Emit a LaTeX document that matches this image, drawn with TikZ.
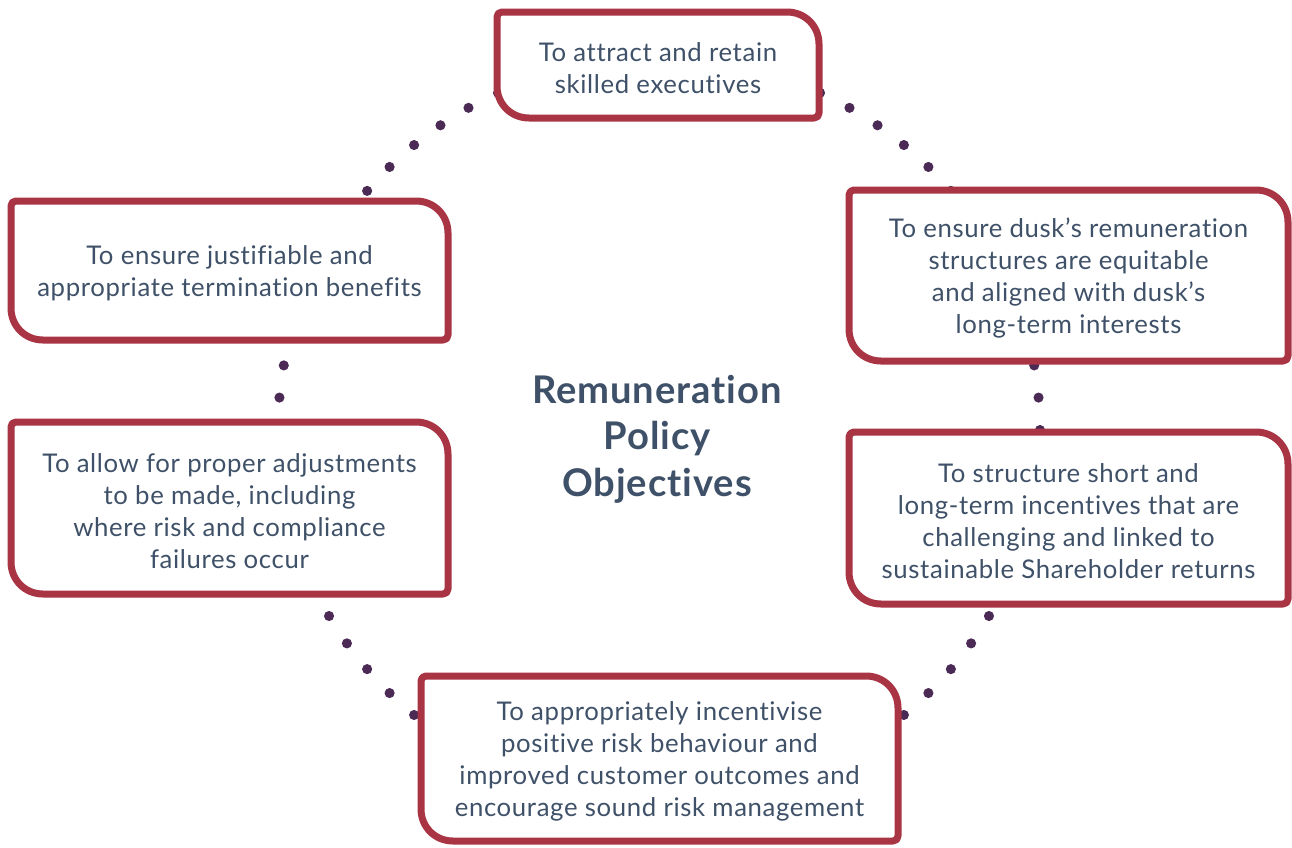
\documentclass[tikz,border=0pt]{standalone}
\usepackage{fontspec}
\setmainfont[LetterSpace=2.5,Ligatures={NoCommon,NoContextual}]{Lato}
\definecolor{boxred}{HTML}{A83444}
\definecolor{dotpurple}{HTML}{4B2A56}
\definecolor{txtblue}{HTML}{3F5168}
\tikzset{
  boxline/.style={draw=boxred, line width=5.25pt, fill=white, line join=round},
  objtext/.style={text=txtblue, align=center, inner sep=0pt, font=\fontsize{19.3pt}{24pt}\selectfont},
  titletext/.style={text=txtblue, align=center, inner sep=0pt, font=\bfseries\fontsize{28.6pt}{35pt}\selectfont},
  dotstyle/.style={fill=dotpurple}
}
\newcommand\objbox[6]{%
  \draw[boxline] ({#2+5},#3) -- ({#4-32},#3)
    .. controls ({#4-14},#3) and (#4,{#3+14}) .. (#4,{#3+32})
    -- (#4,{#5-5})
    .. controls (#4,{#5-2}) and ({#4-2},#5) .. ({#4-5},#5)
    -- ({#2+32},#5)
    .. controls ({#2+14},#5) and (#2,{#5-14}) .. (#2,{#5-32})
    -- (#2,{#3+5})
    .. controls (#2,{#3+2}) and ({#2+2},#3) .. ({#2+5},#3) -- cycle;
  \node[objtext] (#1) at ({(#2+#4)/2},{(#3+#5)/2+3}) {#6};
}
\begin{document}
\begin{tikzpicture}[x=0.75pt,y=-0.75pt]
\useasboundingbox (0,0) rectangle (1292,847);
\clip (0,0) rectangle (1292,847);
% dotted ellipse
\foreach \k in {0,...,71}{
  \fill[dotstyle] ({659+381*cos(5*\k)},{430+372*sin(5*\k)}) circle[radius=3.8pt];
}
\objbox{attract}{497}{12}{819}{118}{To attract and retain\\ skilled executives}
\objbox{termination}{11}{201}{448}{340}{To ensure justifiable and\\appropriate termination benefits}
\objbox{equitable}{849}{190}{1288}{361}{To ensure dusk’s remuneration\\structures are equitable\\and aligned with dusk’s\\long-term interests}
\objbox{adjust}{11}{422}{448}{594}{To allow for proper adjustments\\to be made, including\\where risk and compliance\\failures occur}
\objbox{incentives}{849}{432}{1288}{604}{To structure short and\\long-term incentives that are\\challenging and linked to\\sustainable Shareholder returns}
\objbox{behaviour}{421}{676}{898}{841}{To appropriately incentivise\\positive risk behaviour and\\improved customer outcomes and\\encourage sound risk management}
\node[titletext] (title) at (657,439) {Remuneration\\Policy\\Objectives};
\end{tikzpicture}
\end{document}
